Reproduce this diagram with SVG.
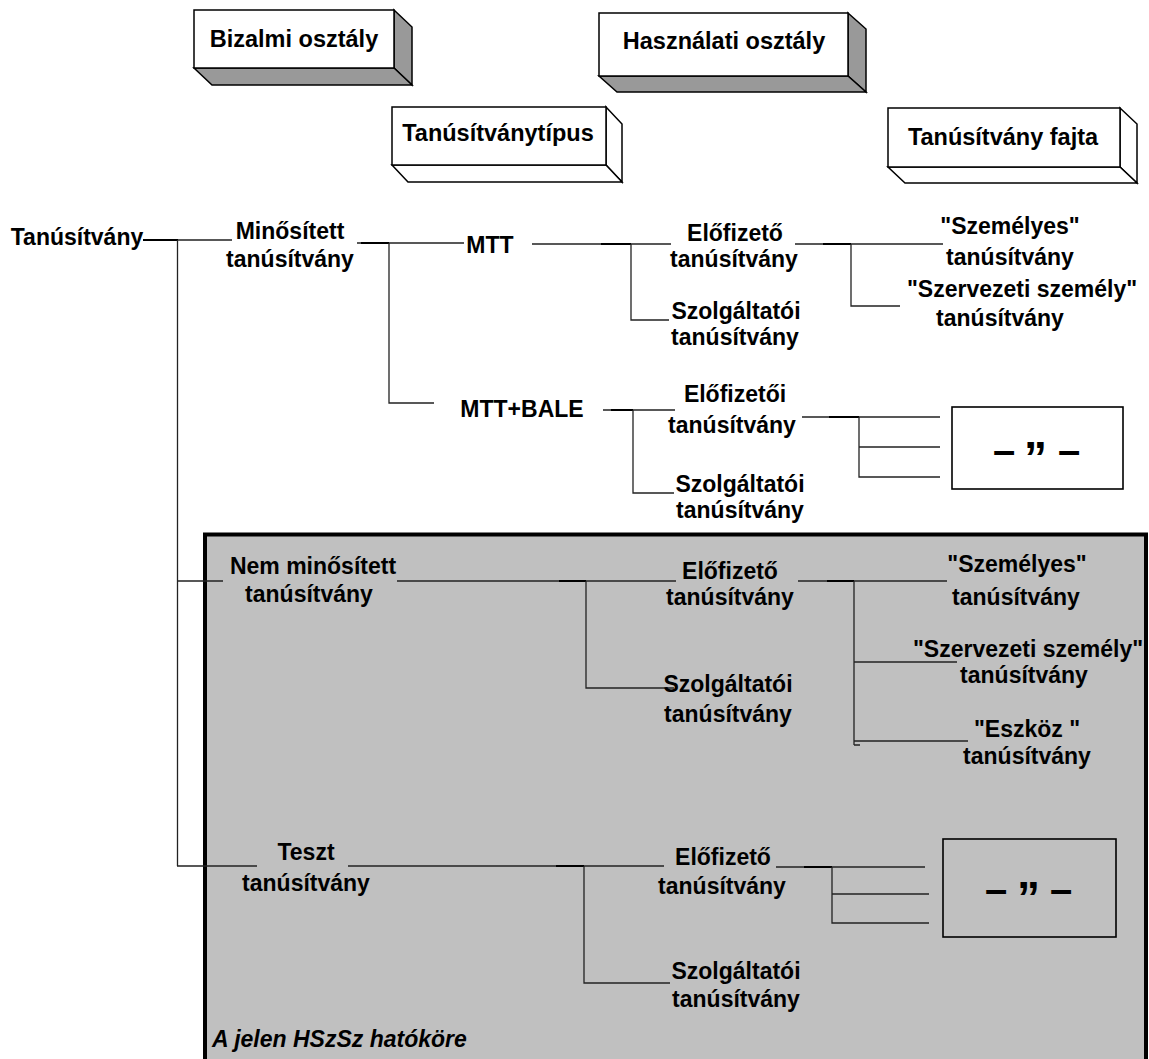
<svg xmlns="http://www.w3.org/2000/svg" width="1149" height="1059" viewBox="0 0 1149 1059">
<style>
text{font-family:"Liberation Sans",Arial,sans-serif;font-weight:bold;font-size:23px;fill:#000;text-anchor:middle}
.lg{font-size:23.5px}
.it{font-style:italic;text-anchor:start}
.face{fill:#fff;stroke:#000;stroke-width:1.5;stroke-linejoin:miter}
.shade{fill:#999;stroke:#000;stroke-width:1.5}
.thin{stroke:#222;stroke-width:1.3;fill:none}
.thick{stroke:#000;stroke-width:2.2;fill:none}
.dbox{stroke:#000;stroke-width:1.6}
.dash{font-size:40px;text-anchor:start}
.q{font-size:46px;text-anchor:start}
</style>
<g id="scope">
<rect x="205" y="534.5" width="941" height="560" fill="#c0c0c0" stroke="#000" stroke-width="4"/>
<text class="it" x="212" y="1047">A jelen HSzSz hatóköre</text>
</g>
<g id="legend-bizalmi">
<polygon class="shade" points="394,10 412,27 412,85 394,68"/>
<polygon class="shade" points="194,68 394,68 412,85 212,85"/>
<rect class="face" x="194" y="10" width="200" height="58"/>
<text class="lg" x="294" y="47">Bizalmi osztály</text>
</g>
<g id="legend-hasznalati">
<polygon class="shade" points="848,13 866,29 866,92 848,76"/>
<polygon class="shade" points="599,76 848,76 866,92 617,92"/>
<rect class="face" x="599" y="13" width="249" height="63"/>
<text class="lg" x="724" y="49">Használati osztály</text>
</g>
<g id="legend-tipus">
<polygon class="face" points="606,107 622,124 622,182 606,165"/>
<polygon class="face" points="392,165 606,165 622,182 408,182"/>
<rect class="face" x="392" y="107" width="214" height="58"/>
<text class="lg" x="498" y="141">Tanúsítványtípus</text>
</g>
<g id="legend-fajta">
<polygon class="face" points="1120,108 1137,124 1137,183 1120,167"/>
<polygon class="face" points="888,167 1120,167 1137,183 905,183"/>
<rect class="face" x="888" y="108" width="232" height="59"/>
<text class="lg" x="1003" y="145">Tanúsítvány fajta</text>
</g>
<g id="connectors">
<path class="thick" d="M143,240H178 M361,243H389 M601,244H631 M823,244H851 M611,410H633 M829,417H859 M559,581H586 M827,581H854 M556,866H584 M804,867H832"/>
<path class="thin" d="M178,240H232 M177.5,240V866 M357,243H361 M389,243H464 M389,243V403H434 M532,244H601 M631,244H671 M631,244V320H669 M795,244H823 M851,244H943 M851,244V306H900"/>
<path class="thin" d="M603,410H611 M633,410H675 M633,410V493H674 M802,417H829 M859,417H940 M859,417V477H940 M859,447H940"/>
<path class="thin" d="M177,581H223 M397,581H559 M586,581H676 M586,581V688H674 M798,581H827 M854,581H947 M854,581V745 M854,662H957 M854,741H968 M854,745H860"/>
<path class="thin" d="M177,866H257 M348,866H556 M584,866H664 M584,866V983H670 M776,867H804 M832,867H925 M832,867V923H929 M832,894H929"/>
</g>
<g id="n-tanusitvany"><text x="77" y="245">Tanúsítvány</text></g>
<g id="n-minositett"><text x="290" y="239">Minősített</text><text x="290" y="267">tanúsítvány</text></g>
<g id="n-mtt"><text x="490" y="253">MTT</text></g>
<g id="n-mtt-elofizeto"><text x="735" y="241">Előfizető</text><text x="734" y="267">tanúsítvány</text></g>
<g id="n-mtt-szolgaltatoi"><text x="736" y="319">Szolgáltatói</text><text x="735" y="345">tanúsítvány</text></g>
<g id="n-mtt-szemelyes"><text x="1010" y="234">"Személyes"</text><text x="1010" y="265">tanúsítvány</text></g>
<g id="n-mtt-szervezeti"><text x="1022" y="297">"Szervezeti személy"</text><text x="1000" y="326">tanúsítvány</text></g>
<g id="n-mttbale"><text x="522" y="417">MTT+BALE</text></g>
<g id="n-bale-elofizetoi"><text x="735" y="402">Előfizetői</text><text x="732" y="433">tanúsítvány</text></g>
<g id="n-bale-szolgaltatoi"><text x="740" y="492">Szolgáltatói</text><text x="740" y="518">tanúsítvány</text></g>
<g id="n-bale-ditto">
<rect class="dbox" x="952" y="407" width="171" height="82" fill="#fff"/>
<text><tspan class="dash" x="993" y="464">–</tspan><tspan class="q" x="1024" y="474">”</tspan><tspan class="dash" x="1058" y="464">–</tspan></text>
</g>
<g id="n-nemminositett"><text x="313" y="574">Nem minősített</text><text x="309" y="602">tanúsítvány</text></g>
<g id="n-nm-elofizeto"><text x="730" y="579">Előfizető</text><text x="730" y="605">tanúsítvány</text></g>
<g id="n-nm-szolgaltatoi"><text x="728" y="692">Szolgáltatói</text><text x="728" y="722">tanúsítvány</text></g>
<g id="n-nm-szemelyes"><text x="1017" y="572">"Személyes"</text><text x="1016" y="605">tanúsítvány</text></g>
<g id="n-nm-szervezeti"><text x="1028" y="657">"Szervezeti személy"</text><text x="1024" y="683">tanúsítvány</text></g>
<g id="n-nm-eszkoz"><text x="1027" y="737">"Eszköz "</text><text x="1027" y="764">tanúsítvány</text></g>
<g id="n-teszt"><text x="306" y="860">Teszt</text><text x="306" y="891">tanúsítvány</text></g>
<g id="n-t-elofizeto"><text x="723" y="865">Előfizető</text><text x="722" y="894">tanúsítvány</text></g>
<g id="n-t-szolgaltatoi"><text x="736" y="979">Szolgáltatói</text><text x="736" y="1007">tanúsítvány</text></g>
<g id="n-t-ditto">
<rect class="dbox" x="943" y="839" width="173" height="98" fill="none"/>
<text><tspan class="dash" x="985" y="903">–</tspan><tspan class="q" x="1017" y="914">”</tspan><tspan class="dash" x="1050" y="903">–</tspan></text>
</g>
</svg>
